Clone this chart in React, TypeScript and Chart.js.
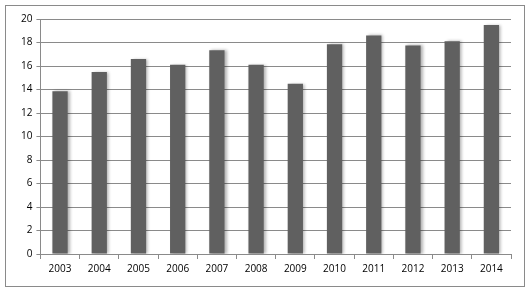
import React, { useEffect, useRef } from "react";
import { Chart, registerables } from "chart.js";

Chart.register(...registerables);

const categories = ["2003", "2004", "2005", "2006", "2007", "2008", "2009", "2010", "2011", "2012", "2013", "2014"];
const values = [13.85, 15.5, 16.6, 16.1, 17.35, 16.1, 14.5, 17.85, 18.6, 17.75, 18.1, 19.5];
const yTicks = [0, 2, 4, 6, 8, 10, 12, 14, 16, 18, 20];

const frame = {
  id: "frame",
  beforeDraw(chart: any) {
    const ctx = chart.ctx;
    ctx.save();
    ctx.fillStyle = "#ffffff";
    ctx.fillRect(0, 0, chart.width, chart.height);
    ctx.strokeStyle = "#8a8a8a";
    ctx.lineWidth = 1;
    ctx.strokeRect(5.5, 5.5, 519, 281);
    ctx.restore();
  },
  beforeDatasetDraw(chart: any) {
    const ctx = chart.ctx;
    ctx.save();
    ctx.shadowColor = "rgba(0,0,0,0.3)";
    ctx.shadowOffsetX = 2;
    ctx.shadowOffsetY = 0;
    ctx.shadowBlur = 3;
  },
  afterDatasetDraw(chart: any) {
    chart.ctx.restore();
  },
};

export default function App() {
  const ref = useRef<HTMLCanvasElement>(null);
  useEffect(() => {
    const chart = new Chart(ref.current!, {
      type: "bar",
      data: {
        labels: categories,
        datasets: [
          {
            data: values,
            backgroundColor: "#606060",
            borderWidth: 0,
            barPercentage: 0.39,
            categoryPercentage: 1,
          },
        ],
      },
      plugins: [frame],
      options: {
        animation: false,
        responsive: false,
        layout: { padding: { left: 17, right: 19, top: 19, bottom: 14 } },
        plugins: { legend: { display: false }, tooltip: { enabled: false } },
        scales: {
          x: {
            offset: true,
            grid: { offset: true, drawOnChartArea: false, drawTicks: true, tickLength: 5, color: "#8a8a8a" },
            border: { color: "#8a8a8a" },
            ticks: { color: "#000", font: { family: "Open Sans", size: 10 }, padding: 4, maxRotation: 0 },
          },
          y: {
            min: 0,
            max: 20,
            afterBuildTicks: (axis: any) => {
              axis.ticks = yTicks.map((v) => ({ value: v }));
            },
            grid: { color: "#8a8a8a", tickLength: 4 },
            border: { color: "#8a8a8a" },
            ticks: { color: "#000", font: { family: "Open Sans", size: 10 }, padding: 4 },
          },
        },
      },
    });
    return () => chart.destroy();
  }, []);
  return (
    <div style={{ position: "fixed", left: 0, top: 0, width: 530, height: 293 }}>
      <canvas ref={ref} width={530} height={293} style={{ width: 530, height: 293 }} />
    </div>
  );
}
